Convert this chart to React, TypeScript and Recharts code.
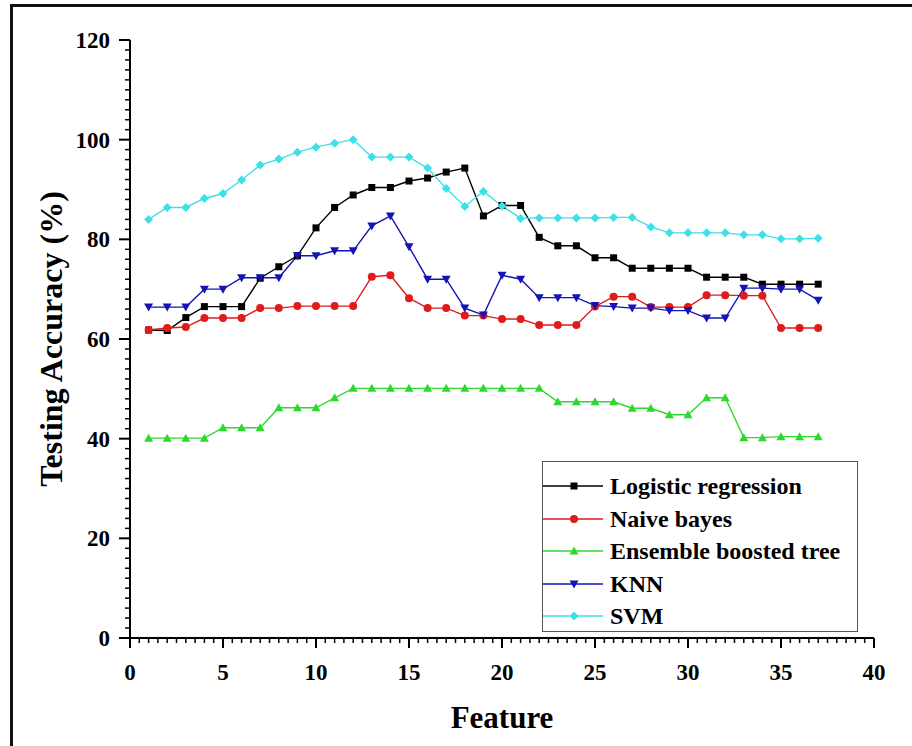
import { LineChart, Line, XAxis, YAxis, Legend } from 'recharts'

const features = [1, 2, 3, 4, 5, 6, 7, 8, 9, 10, 11, 12, 13, 14, 15, 16, 17, 18, 19, 20, 21, 22, 23, 24, 25, 26, 27, 28, 29, 30, 31, 32, 33, 34, 35, 36, 37]

const logisticRegression = [61.8, 61.7, 64.3, 66.5, 66.5, 66.5, 72.2, 74.5, 76.7, 82.3, 86.4, 88.9, 90.4, 90.4, 91.7, 92.3, 93.5, 94.3, 84.7, 86.8, 86.8, 80.4, 78.7, 78.7, 76.3, 76.3, 74.2, 74.2, 74.2, 74.2, 72.4, 72.4, 72.4, 71.0, 71.0, 71.0, 71.0]
const naiveBayes = [61.8, 62.2, 62.4, 64.2, 64.2, 64.2, 66.2, 66.2, 66.6, 66.6, 66.6, 66.6, 72.5, 72.8, 68.2, 66.2, 66.2, 64.7, 64.7, 64.0, 64.0, 62.8, 62.8, 62.8, 66.5, 68.5, 68.5, 66.4, 66.4, 66.4, 68.8, 68.8, 68.7, 68.7, 62.2, 62.2, 62.2]
const ensembleBoostedTree = [40.1, 40.1, 40.1, 40.1, 42.2, 42.2, 42.2, 46.2, 46.2, 46.2, 48.2, 50.1, 50.1, 50.1, 50.1, 50.1, 50.1, 50.1, 50.1, 50.1, 50.1, 50.1, 47.4, 47.4, 47.4, 47.4, 46.1, 46.1, 44.8, 44.8, 48.2, 48.2, 40.2, 40.2, 40.4, 40.4, 40.4]
const knn = [66.4, 66.4, 66.4, 70.0, 70.0, 72.3, 72.3, 72.3, 76.7, 76.7, 77.7, 77.7, 82.7, 84.7, 78.5, 72.0, 72.0, 66.2, 64.8, 72.8, 72.0, 68.3, 68.3, 68.3, 66.7, 66.5, 66.2, 66.2, 65.7, 65.7, 64.2, 64.2, 70.2, 70.2, 70.0, 70.0, 67.8]
const svm = [84.0, 86.4, 86.4, 88.2, 89.2, 91.9, 94.9, 96.1, 97.5, 98.5, 99.3, 100.0, 96.5, 96.5, 96.5, 94.3, 90.2, 86.6, 89.6, 86.7, 84.2, 84.3, 84.3, 84.3, 84.3, 84.4, 84.4, 82.5, 81.3, 81.3, 81.3, 81.3, 80.9, 80.9, 80.1, 80.1, 80.2]

const xMajorTicks = [0, 5, 10, 15, 20, 25, 30, 35, 40]
const yMajorTicks = [0, 20, 40, 60, 80, 100, 120]

// minor ticks: 9 between x majors, 9 between y majors
const xTicks = xMajorTicks.flatMap((t, i) =>
  i === xMajorTicks.length - 1 ? [t] : Array.from({ length: 10 }, (_, k) => t + k * 0.5))
const yTicks = yMajorTicks.flatMap((t, i) =>
  i === yMajorTicks.length - 1 ? [t] : Array.from({ length: 10 }, (_, k) => t + k * 2))

const series = [
  { key: 'lr', name: 'Logistic regression', color: '#000000', shape: 'square' },
  { key: 'nb', name: 'Naive bayes', color: '#e01b1b', shape: 'circle' },
  { key: 'ebt', name: 'Ensemble boosted tree', color: '#2fd82f', shape: 'up' },
  { key: 'knn', name: 'KNN', color: '#1414b4', shape: 'down' },
  { key: 'svm', name: 'SVM', color: '#3ee0e6', shape: 'diamond' },
]

const data = features.map((f, i) => ({
  feature: f,
  lr: logisticRegression[i],
  nb: naiveBayes[i],
  ebt: ensembleBoostedTree[i],
  knn: knn[i],
  svm: svm[i],
}))

const FONT = "'Liberation Serif', 'Times New Roman', serif"

function Marker({ shape, cx, cy, color }: { shape: string; cx: number; cy: number; color: string }) {
  const s = 3.5
  if (shape === 'square') return <rect x={cx - s} y={cy - s} width={2 * s} height={2 * s} fill={color} />
  if (shape === 'circle') return <circle cx={cx} cy={cy} r={s + 0.5} fill={color} />
  if (shape === 'up')
    return <polygon points={`${cx},${cy - s - 1} ${cx + s + 1},${cy + s} ${cx - s - 1},${cy + s}`} fill={color} />
  if (shape === 'down')
    return <polygon points={`${cx},${cy + s + 1} ${cx + s + 1},${cy - s} ${cx - s - 1},${cy - s}`} fill={color} />
  return <polygon points={`${cx},${cy - s - 1} ${cx + s + 1},${cy} ${cx},${cy + s + 1} ${cx - s - 1},${cy}`} fill={color} />
}

function XTick(props: any) {
  const { x, y, payload } = props
  const major = xMajorTicks.includes(payload.value)
  return (
    <g>
      <line x1={x} x2={x} y1={y} y2={y + (major ? 10 : 5)} stroke="#000" strokeWidth={major ? 2 : 1.5} />
      {major && (
        <text x={x} y={y + 42} textAnchor="middle" fontFamily={FONT} fontWeight="bold" fontSize={23} fill="#000">
          {payload.value}
        </text>
      )}
    </g>
  )
}

function YTick(props: any) {
  const { x, y, payload } = props
  const major = yMajorTicks.includes(payload.value)
  return (
    <g>
      <line x1={x} x2={x - (major ? 11 : 5)} y1={y} y2={y} stroke="#000" strokeWidth={major ? 2 : 1.5} />
      {major && (
        <text x={x - 20} y={y + 8} textAnchor="end" fontFamily={FONT} fontWeight="bold" fontSize={23} fill="#000">
          {payload.value}
        </text>
      )}
    </g>
  )
}

function LegendBox() {
  return (
    <div style={{ border: '1.5px solid #555', width: 316, height: 171, boxSizing: 'border-box', paddingTop: 8, background: '#fff' }}>
      {series.map((s) => (
        <div key={s.key} style={{ display: 'flex', alignItems: 'center', height: 32.5 }}>
          <svg width={62} height={20} style={{ display: 'block' }}>
            <line x1={0} x2={60} y1={10} y2={10} stroke={s.color} strokeWidth={1.5} />
            <Marker shape={s.shape} cx={31} cy={10} color={s.color} />
          </svg>
          <span style={{ marginLeft: 5, fontFamily: FONT, fontWeight: 'bold', fontSize: 24, color: '#000', lineHeight: 1 }}>
            {s.name}
          </span>
        </div>
      ))}
    </div>
  )
}

export default function App() {
  return (
    <div style={{ position: 'absolute', left: 0, top: 0, width: 912, height: 746, overflow: 'hidden', background: '#fff' }}>
      {/* outer frame: only top and left edges are visible in the picture */}
      <div style={{ position: 'absolute', left: 10, top: 4, width: 902, height: 3, background: '#111' }} />
      <div style={{ position: 'absolute', left: 10, top: 4, width: 3, height: 742, background: '#111' }} />
      <div style={{ position: 'absolute', left: 0, top: 0 }}>
        <LineChart width={912} height={746} data={data} margin={{ top: 40, right: 38, left: 60, bottom: 48 }}>
          <XAxis
            dataKey="feature"
            type="number"
            domain={[0, 40]}
            ticks={xTicks}
            interval={0}
            tickSize={0}
            tickMargin={0}
            height={60}
            axisLine={{ stroke: '#000', strokeWidth: 2 }}
            tickLine={false}
            tick={<XTick />}
            label={{
              content: ({ viewBox }: any) => (
                <text x={viewBox.x + viewBox.width / 2} y={viewBox.y + 90} textAnchor="middle" fontFamily={FONT} fontWeight="bold" fontSize={31} fill="#000">
                  Feature
                </text>
              ),
            }}
          />
          <XAxis xAxisId="top" orientation="top" dataKey="feature" type="number" domain={[0, 40]} height={0} tick={false} tickLine={false} axisLine={{ stroke: '#000', strokeWidth: 2 }} />
          <YAxis
            type="number"
            domain={[0, 120]}
            ticks={yTicks}
            interval={0}
            tickSize={0}
            tickMargin={0}
            width={70}
            axisLine={{ stroke: '#000', strokeWidth: 2 }}
            tickLine={false}
            tick={<YTick />}
            label={{
              content: ({ viewBox }: any) => {
                const lx = viewBox.x + 2
                const ly = viewBox.y + viewBox.height / 2
                return (
                  <text x={lx} y={ly} transform={`rotate(-90, ${lx}, ${ly})`} textAnchor="middle" fontFamily={FONT} fontWeight="bold" fontSize={32} fill="#000">
                    Testing Accuracy (%)
                  </text>
                )
              },
            }}
          />
          <YAxis yAxisId="right" orientation="right" domain={[0, 120]} width={0} tick={false} tickLine={false} axisLine={{ stroke: '#000', strokeWidth: 2 }} />
          {series.map((s) => (
            <Line
              key={s.key}
              type="linear"
              dataKey={s.key}
              name={s.name}
              stroke={s.color}
              strokeWidth={1.4}
              isAnimationActive={false}
              activeDot={false}
              dot={(p: any) => <Marker key={`${s.key}-${p.index}`} shape={s.shape} cx={p.cx} cy={p.cy} color={s.color} />}
            />
          ))}
          <Legend
            layout="vertical"
            align="center"
            verticalAlign="middle"
            wrapperStyle={{ left: 542, top: 461, width: 316, height: 171 }}
            content={() => <LegendBox />}
          />
        </LineChart>
      </div>
    </div>
  )
}
